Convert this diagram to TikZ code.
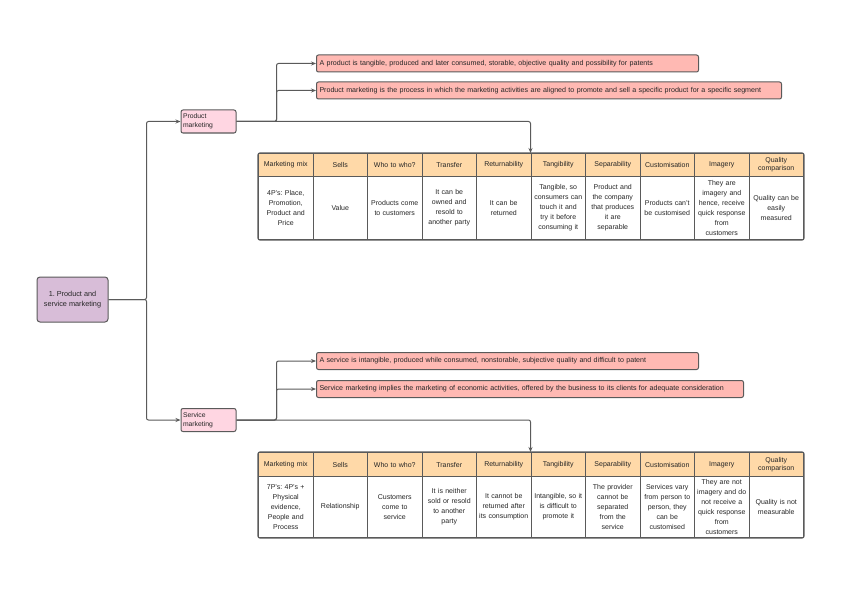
\documentclass[tikz,border=0pt]{standalone}
\usepackage{fontspec}
\setmainfont{Liberation Sans}
\usetikzlibrary{arrows.meta}
\frenchspacing
\definecolor{rootfill}{HTML}{D8BDD8}
\definecolor{pinkfill}{HTML}{FFD6E2}
\definecolor{salmon}{HTML}{FFB9B3}
\definecolor{headfill}{HTML}{FFD9A8}
\definecolor{edge}{HTML}{5A5A5A}
\definecolor{txt}{HTML}{262626}
\tikzset{
  rootbox/.style={draw=edge, line width=1pt, fill=rootfill, rounded corners=3pt, minimum width=71pt, minimum height=45pt, align=center, font=\fontsize{7.3}{10}\selectfont, text=txt, inner sep=0pt},
  subbox/.style={draw=edge, line width=1pt, fill=pinkfill, rounded corners=2pt, minimum width=55pt, minimum height=23pt, align=left, text width=51pt, inner xsep=2pt, inner ysep=0pt, font=\fontsize{6.8}{9}\selectfont, text=txt},
  notebox/.style={draw=edge, line width=1pt, fill=salmon, rounded corners=2pt, minimum height=17pt, align=left, inner xsep=3pt, inner ysep=0pt, font=\fontsize{7.1}{8}\selectfont, text=txt, anchor=west},
  headcell/.style={draw=edge, line width=1pt, fill=headfill, minimum width=54.5pt, text width=54pt, align=center, inner sep=0pt, font=\fontsize{7}{8}\selectfont, text=txt, anchor=north west},
  bodycell/.style={draw=edge, line width=1pt, fill=white, minimum width=54.5pt, text width=54pt, align=center, inner sep=0pt, font=\fontsize{7}{10}\selectfont, text=txt, anchor=north west},
  conn/.style={draw=edge, line width=1pt, rounded corners=2pt, -{Stealth[length=5pt,width=4pt]}},
}
\begin{document}
\begin{tikzpicture}[x=1pt,y=-1pt]
\useasboundingbox (0,0) rectangle (848,599);
\fill[white] (0,0) rectangle (848,599);

\node[rootbox] (root) at (72.5,299.5) {1. Product and\\service marketing};
\node[subbox] (pm) at (208.5,121.5) {Product\\marketing};
\node[subbox] (sm) at (208.5,420) {Service\\marketing};

\node[notebox, minimum width=382pt, text width=376pt] (n1) at (316,63.5) {A product is tangible, produced and later consumed, storable, objective quality and possibility for patents};
\node[notebox, minimum width=465pt, text width=459pt] (n2) at (316,90.5) {Product marketing is the process in which the marketing activities are aligned to promote and sell a specific product for a specific segment};
\node[notebox, minimum width=382pt, text width=376pt] (n3) at (316,361) {A service is intangible, produced while consumed, nonstorable, subjective quality and difficult to patent};
\node[notebox, minimum width=427pt, text width=421pt] (n4) at (316,389) {Service marketing implies the marketing of economic activities, offered by the business to its clients for adequate consideration};

% table 1
\foreach \t [count=\i] in {Marketing mix,Sells,Who to who?,Transfer,Returnability,Tangibility,Separability,Customisation,Imagery,{Quality\\comparison}}{
  \node[headcell, minimum height=23pt] (ph\i) at ({258+(\i-1)*54.5},153) {\t};
}
\foreach \t [count=\i] in {{4P's: Place,\\Promotion,\\Product and\\Price},Value,{Products come\\to customers},{It can be\\owned and\\resold to\\another party},{It can be\\returned},{Tangible, so\\consumers can\\touch it and\\try it before\\consuming it},{Product and\\the company\\that produces\\it are\\separable},{Products can't\\be customised},{They are\\imagery and\\hence, receive\\quick response\\from\\customers},{Quality can be\\easily\\measured}}{
  \node[bodycell, minimum height=63pt] (pb\i) at ({258+(\i-1)*54.5},176) {\t};
}
\draw[edge, line width=1.2pt, rounded corners=2pt] (ph1.north west) rectangle (pb10.south east);

% table 2
\foreach \t [count=\i] in {Marketing mix,Sells,Who to who?,Transfer,Returnability,Tangibility,Separability,Customisation,Imagery,{Quality\\comparison}}{
  \node[headcell, minimum height=24pt] (sh\i) at ({258+(\i-1)*54.5},452) {\t};
}
\foreach \t [count=\i] in {{7P's: 4P's +\\Physical\\evidence,\\People and\\Process},Relationship,{Customers\\come to\\service},{It is neither\\sold or resold\\to another\\party},{It cannot be\\returned after\\its consumption},{Intangible, so it\\is difficult to\\promote it},{The provider\\cannot be\\separated\\from the\\service},{Services vary\\from person to\\person, they\\can be\\customised},{They are not\\imagery and do\\not receive a\\quick response\\from\\customers},{Quality is not\\measurable}}{
  \node[bodycell, minimum height=61pt] (sb\i) at ({258+(\i-1)*54.5},476) {\t};
}
\draw[edge, line width=1.2pt, rounded corners=2pt] (sh1.north west) rectangle (sb10.south east);

\coordinate (t1) at (ph6.north west);
\coordinate (t2) at (sh6.north west);

% connectors
\draw[conn] (root.east) -- ++(38,0) |- (pm.west);
\draw[conn] (root.east) -- ++(38,0) |- (sm.west);
\draw[conn] (pm.east) -- ++(40,0) |- (n1.west);
\draw[conn] (pm.east) -- ++(40,0) |- (n2.west);
\draw[conn] (pm.east) -| (t1);
\draw[conn] (sm.east) -- ++(40,0) |- (n3.west);
\draw[conn] (sm.east) -- ++(40,0) |- (n4.west);
\draw[conn] (sm.east) -| (t2);
\end{tikzpicture}
\end{document}
